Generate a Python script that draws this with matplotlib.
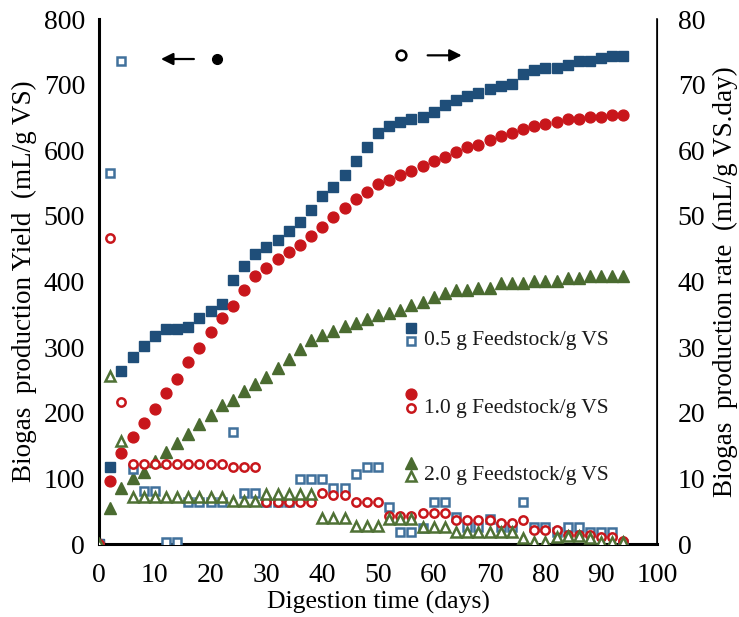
import matplotlib
matplotlib.use("Agg")
import matplotlib.pyplot as plt
from matplotlib.lines import Line2D

plt.rcParams['font.family'] = ['Liberation Serif', 'DejaVu Serif']

# Digestion time (days)
days = [0, 2, 4, 6, 8, 10, 12, 14, 16, 18, 20, 22, 24, 26, 28, 30, 32, 34, 36, 38,
        40, 42, 44, 46, 48, 50, 52, 54, 56, 58, 60, 62, 64, 66, 68, 70, 72, 74, 76, 78,
        80, 82, 84, 86, 88, 90, 92, 94]

# Cumulative biogas yield (mL/g VS) - left axis
yield_05 = [0, 117, 264, 285, 302, 317, 328, 328, 331, 344, 355, 366, 402, 424, 442, 453,
            463, 477, 491, 509, 530, 544, 562, 584, 605, 626, 637, 643, 648, 651, 658, 669,
            677, 683, 687, 693, 698, 701, 716, 722, 725, 725, 730, 736, 736, 741, 744, 744]
yield_10 = [0, 96, 139, 163, 184, 206, 230, 251, 277, 299, 323, 344, 363, 387, 408, 421,
            434, 445, 456, 469, 483, 498, 512, 526, 536, 549, 555, 562, 568, 576, 584, 590,
            597, 605, 608, 616, 622, 626, 632, 637, 640, 643, 648, 648, 651, 651, 654, 654]
yield_20 = [0, 55, 85, 100, 110, 126, 140, 154, 168, 183, 197, 212, 219, 233, 244, 254,
            268, 282, 297, 311, 318, 325, 332, 337, 343, 349, 352, 357, 364, 369, 376, 382,
            387, 387, 390, 390, 398, 398, 398, 401, 401, 401, 405, 405, 408, 408, 408, 408]

# Daily biogas production rate (mL/g VS.day) - right axis
rate_05 = [0, 56.5, 73.6, 11.4, 8.1, 8.1, 0.3, 0.3, 6.4, 6.4, 6.4, 6.4, 17.1, 7.8, 7.8, 6.4,
           6.4, 6.4, 9.9, 9.9, 9.9, 8.5, 8.5, 10.7, 11.7, 11.7, 5.6, 1.8, 1.8, 2.5, 6.4, 6.4,
           4.1, 2.6, 2.6, 3.8, 2.6, 2.6, 6.4, 2.6, 2.6, 1.8, 2.6, 2.6, 1.8, 1.8, 1.8, 0]
rate_10 = [0, 46.6, 21.6, 12.2, 12.2, 12.2, 12.2, 12.2, 12.2, 12.2, 12.2, 12.2, 11.7, 11.7,
           11.7, 6.4, 6.4, 6.4, 6.4, 6.4, 7.8, 7.5, 7.5, 6.4, 6.4, 6.4, 4.3, 4.2, 4.3, 4.7,
           4.7, 4.7, 3.7, 3.6, 3.6, 3.7, 3.2, 3.2, 3.6, 2.2, 2.2, 2.2, 1.4, 1.4, 1.4, 1.1,
           1.1, 0.5]
rate_20 = [0, 25.6, 15.7, 7.2, 7.2, 7.2, 7.2, 7.2, 7.2, 7.2, 7.2, 7.2, 6.6, 6.6, 6.6, 7.6,
           7.6, 7.6, 7.6, 7.6, 4.0, 4.0, 4.0, 2.8, 2.8, 2.7, 3.8, 3.8, 3.8, 2.6, 2.6, 2.6,
           1.9, 1.9, 1.9, 1.9, 1.9, 1.9, 0.9, 0.3, 0.3, 1.1, 1.2, 1.2, 0.9, 0.3, 0.3, 0.3]

series_labels = ["0.5 g Feedstock/g VS", "1.0 g Feedstock/g VS", "2.0 g Feedstock/g VS"]

blue_fill, blue_edge = "#1F4E79", "#41719C"
red_fill, red_edge = "#C8161B", "#C8161B"
green_fill, green_edge = "#4A6B30", "#4F7135"

fig = plt.figure(figsize=(7.39, 6.17), dpi=100)
ax = fig.add_axes([0.134, 0.1183, 0.755, 0.8507])
ax2 = ax.twinx()

ms_f = 7.2
ax.plot(days, yield_05, ls="none", marker="s", ms=ms_f, color=blue_fill, mec=blue_fill)
ax.plot(days, yield_10, ls="none", marker="o", ms=ms_f + 0.6, color=red_fill, mec=red_fill)
ax.plot(days, yield_20, ls="none", marker="^", ms=ms_f + 1.2, color=green_fill, mec=green_fill)

ms_o = 6.0
ax2.plot(days, rate_05, ls="none", marker="s", ms=ms_o, mfc="white", mec=blue_edge, mew=1.8)
ax2.plot(days, rate_10, ls="none", marker="o", ms=ms_o, mfc="white", mec=red_edge, mew=1.8)
ax2.plot(days, rate_20, ls="none", marker="^", ms=ms_o + 1.5, mfc="white", mec=green_edge, mew=1.8)

ax.set_xlim(0, 100)
ax.set_ylim(0, 800)
ax2.set_ylim(0, 80)
ax.set_xticks(range(0, 101, 10))
ax.set_yticks(range(0, 801, 100))
ax2.set_yticks(range(0, 81, 10))

tick_fs = 20
ax.tick_params(axis="both", length=0, labelsize=tick_fs)
ax.tick_params(axis="x", pad=14)
ax.tick_params(axis="y", pad=10)
ax2.tick_params(axis="y", length=0, labelsize=tick_fs, pad=15)

for a in (ax, ax2):
    a.spines["top"].set_visible(False)
ax.spines["left"].set_linewidth(2.2)
ax.spines["bottom"].set_linewidth(2.2)
ax2.spines["left"].set_visible(False)
ax2.spines["bottom"].set_visible(False)
ax2.spines["right"].set_linewidth(1.2)

ax.set_xlabel("Digestion time (days)", fontsize=18.5, labelpad=2)
ax.set_ylabel("Biogas  production Yield  (mL/g VS)", fontsize=19.5, labelpad=5)
ax2.set_ylabel("Biogas  production rate  (mL/g VS.day)", fontsize=19.5, labelpad=5)

# Stacked marker key: filled = yield, open = rate
key_styles = [
    ("s", blue_fill, blue_edge, ms_f, ms_o),
    ("o", red_fill, red_edge, ms_f + 0.6, ms_o),
    ("^", green_fill, green_edge, ms_f + 1.2, ms_o + 1.5),
]
key_rows = [(0.411, 0.387), (0.286, 0.259), (0.154, 0.130)]
for (mk, fc, ec, msf, mso), (yf, yo), lab in zip(key_styles, key_rows, series_labels):
    ax2.add_line(Line2D([0.559], [yf], transform=ax.transAxes, ls="none", marker=mk,
                        ms=msf, color=fc, mec=fc, clip_on=False))
    ax2.add_line(Line2D([0.559], [yo], transform=ax.transAxes, ls="none", marker=mk,
                        ms=mso, mfc="white", mec=ec, mew=1.8, clip_on=False))
    ax2.text(0.582, yo, lab, transform=ax.transAxes, fontsize=15.5,
             va="center", ha="left", color="#1a1a1a")

# Axis indicators
ax.annotate("", xy=(0.106, 0.924), xytext=(0.175, 0.924), xycoords="axes fraction",
            arrowprops=dict(arrowstyle="-|>", color="black", lw=1.6, mutation_scale=18))
ax.add_line(Line2D([0.211], [0.924], transform=ax.transAxes, ls="none", marker="o",
                   ms=7, color="black"))
ax.add_line(Line2D([0.541], [0.931], transform=ax.transAxes, ls="none", marker="o",
                   ms=7, mfc="white", mec="black", mew=1.8))
ax.annotate("", xy=(0.655, 0.931), xytext=(0.584, 0.931), xycoords="axes fraction",
            arrowprops=dict(arrowstyle="-|>", color="black", lw=1.6, mutation_scale=18))

fig.savefig("out.png", dpi=100)
